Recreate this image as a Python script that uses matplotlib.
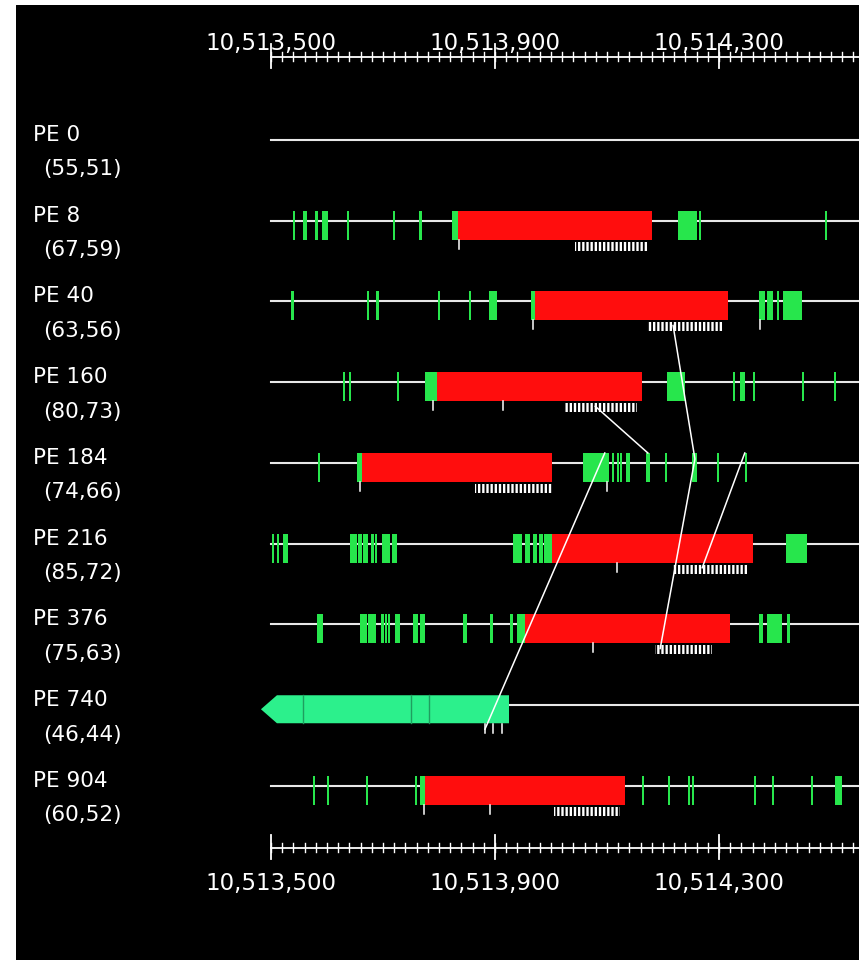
import matplotlib
matplotlib.use("Agg")
import numpy as np
import matplotlib.pyplot as plt
from matplotlib.patches import Rectangle, Polygon

# Genome window shown (bp)
VIEW_LEFT = 10513044.6
VIEW_RIGHT = 10514550
TRACK_START = 10513500

ruler_major = [10513500, 10513900, 10514300, 10514700]
ruler_minor_step = 20

row_names = ["PE 0", "PE 8", "PE 40", "PE 160", "PE 184", "PE 216", "PE 376", "PE 740", "PE 904"]
row_counts = ["(55,51)", "(67,59)", "(63,56)", "(80,73)", "(74,66)", "(85,72)", "(75,63)", "(46,44)", "(60,52)"]

# green exon hits per row (start, end)
exons = [
    [],
    [(10513539, 10513543), (10513557, 10513564), (10513579, 10513584), (10513591, 10513602),
     (10513636, 10513640), (10513718, 10513722), (10513764, 10513770), (10513823, 10513834),
     (10514227, 10514261), (10514264, 10514268), (10514489, 10514493)],
    [(10513536, 10513541), (10513671, 10513675), (10513688, 10513692), (10513798, 10513802),
     (10513854, 10513858), (10513889, 10513904), (10513964, 10513971), (10514371, 10514382),
     (10514386, 10514396), (10514404, 10514407), (10514414, 10514448)],
    [(10513629, 10513633), (10513639, 10513643), (10513725, 10513729), (10513775, 10513796),
     (10514207, 10514239), (10514325, 10514329), (10514337, 10514346), (10514361, 10514365),
     (10514448, 10514452), (10514505, 10514509)],
    [(10513584, 10513588), (10513654, 10513662), (10514057, 10514104), (10514109, 10514112),
     (10514118, 10514121), (10514123, 10514126), (10514134, 10514141), (10514170, 10514177),
     (10514204, 10514208), (10514252, 10514261), (10514296, 10514300), (10514346, 10514350)],
    [(10513502, 10513505), (10513511, 10513514), (10513521, 10513530), (10513641, 10513654),
     (10513655, 10513662), (10513664, 10513673), (10513679, 10513684), (10513686, 10513689),
     (10513698, 10513712), (10513716, 10513725), (10513932, 10513948), (10513954, 10513962),
     (10513968, 10513975), (10513979, 10513986), (10513987, 10513994), (10513995, 10514002),
     (10514420, 10514457)],
    [(10513582, 10513593), (10513659, 10513671), (10513673, 10513687), (10513696, 10513702),
     (10513704, 10513707), (10513709, 10513713), (10513721, 10513730), (10513754, 10513762),
     (10513766, 10513775), (10513843, 10513850), (10513891, 10513896), (10513927, 10513932),
     (10513939, 10513950), (10513950, 10513954), (10514371, 10514379), (10514386, 10514412),
     (10514421, 10514427)],
    [],
    [(10513575, 10513579), (10513600, 10513604), (10513670, 10513674), (10513757, 10513761),
     (10513766, 10513775), (10514162, 10514166), (10514209, 10514213), (10514245, 10514249),
     (10514252, 10514256), (10514362, 10514366), (10514395, 10514399), (10514464, 10514468),
     (10514507, 10514520)],
]

# red repeat block per row
repeats = [None, (10513834, 10514180), (10513971, 10514316), (10513796, 10514162),
           (10513662, 10514002), (10514002, 10514361), (10513954, 10514320), None,
           (10513775, 10514132)]

# stacked read marks under the block
read_marks = [None, (10514043, 10514173), (10514171, 10514307), (10514025, 10514154),
              (10513864, 10514002), (10514218, 10514350), (10514186, 10514288), None,
              (10514005, 10514123)]

# single reads below the track
single_reads = [[], [10513836], [10513968, 10514373], [10513789, 10513914],
                [10513659, 10514100], [10514118], [10514075],
                [10513882, 10513896, 10513912], [10513773, 10513891]]

# PE 740 gene model (points left)
gene_span = (10513482, 10513925)
gene_row = 7
gene_dividers = [10513557, 10513750, 10513782]

# links between rows: (position, row, anchor)
links = [
    [(10514218, 2, "mark"), (10514257, 4, "mid"), (10514195, 6, "mark")],
    [(10514079, 3, "mark"), (10514173, 4, "top")],
    [(10514346, 4, "top"), (10514270, 5, "mark")],
    [(10514096, 4, "top"), (10513882, 7, "mark")],
]

RED = "#ff0d0d"
GREEN = "#27e64c"
AQUA = "#2cf08c"
LINE = "#e8e8e8"


def row_y(i):
    return 140 + i * 80.75


anchor_dy = {"mark": 24, "top": -10, "mid": -4}

plt.rcParams["hatch.linewidth"] = 1.3

fig = plt.figure(figsize=(8.59, 9.6), dpi=100, facecolor="white")
ax = fig.add_axes([16 / 859, 0, 843 / 859, 955 / 960])
ax.set_facecolor("black")
ax.set_xlim(VIEW_LEFT, VIEW_RIGHT)
ax.set_ylim(960, 5)
ax.axis("off")
ax.add_patch(Rectangle((VIEW_LEFT, 5), VIEW_RIGHT - VIEW_LEFT, 955, color="black", zorder=0))

# rulers
for ry, lab_y in [(57, 50), (848, 890)]:
    ax.plot([TRACK_START, VIEW_RIGHT], [ry, ry], color="white", lw=1.3, zorder=3)
    for m in np.arange(TRACK_START, VIEW_RIGHT, ruler_minor_step):
        ax.plot([m, m], [ry - 4.5, ry + 4.5], color="white", lw=1.0, zorder=3)
    for m in ruler_major:
        if m > VIEW_RIGHT:
            continue
        ax.plot([m, m], [ry - 13, ry + 11], color="white", lw=1.3, zorder=3)
        ax.text(m, lab_y, f"{m:,}", color="white", fontsize=16.5, ha="center",
                va="baseline", family="DejaVu Sans")

# rows
for i, name in enumerate(row_names):
    y = row_y(i)
    ax.text(VIEW_LEFT + 17 * 1.7857, y + 1, name, color="white", fontsize=15.5,
            va="baseline", ha="left")
    ax.text(VIEW_LEFT + 27 * 1.7857, y + 35.5, row_counts[i], color="white",
            fontsize=15.5, va="baseline", ha="left")

    line_start = gene_span[1] if i == gene_row else TRACK_START
    ax.plot([line_start, VIEW_RIGHT], [y, y], color=LINE, lw=1.5, zorder=2)

    for s, e in exons[i]:
        ax.add_patch(Rectangle((s, y - 10), e - s, 29, color=GREEN, lw=0, zorder=4))
    if repeats[i]:
        s, e = repeats[i]
        ax.add_patch(Rectangle((s, y - 10), e - s, 29, color=RED, lw=0, zorder=5))
    if read_marks[i]:
        s, e = read_marks[i]
        ax.add_patch(Rectangle((s, y + 21), e - s, 9, facecolor="white",
                               edgecolor="black", lw=0, hatch="||||", zorder=5))
    for r in single_reads[i]:
        ax.plot([r, r], [y + 19, y + 28], color="white", lw=1.1, zorder=5)

# PE 740 gene arrow
gy = row_y(gene_row)
g0, g1 = gene_span
tip = 16 * 1.7857
ax.add_patch(Polygon([(g0, gy + 4), (g0 + tip, gy - 10), (g1, gy - 10), (g1, gy + 18),
                      (g0 + tip, gy + 18)], closed=True, color=AQUA, lw=0, zorder=4))
for d in gene_dividers:
    ax.plot([d, d], [gy - 10, gy + 18], color="#1f9e5f", lw=1.0, zorder=5)

# links
for link in links:
    xs = [p for p, r, a in link]
    ys = [row_y(r) + anchor_dy[a] for p, r, a in link]
    ax.plot(xs, ys, color="white", lw=1.1, zorder=6)

fig.savefig("out.png", dpi=100, facecolor="white")
